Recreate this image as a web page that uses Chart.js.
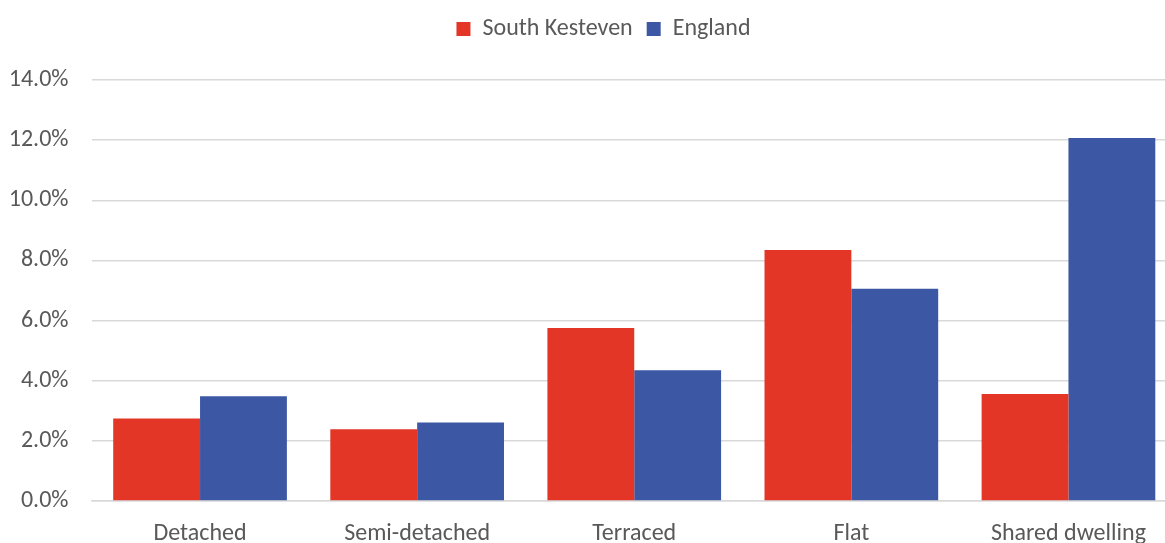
<!DOCTYPE html>
<html>
<head>
<meta charset="utf-8">
<script src="https://cdn.jsdelivr.net/npm/chart.js@4/dist/chart.umd.min.js"></script>
<style>
html,body{margin:0;padding:0;background:#fff;overflow:hidden;}
#wrap{width:1177px;height:543px;position:relative;}
</style>
</head>
<body>
<div id="wrap"><canvas id="c"></canvas></div>
<script>
const categories = ["Detached", "Semi-detached", "Terraced", "Flat", "Shared dwelling"];
const southKesteven = [2.74, 2.39, 5.75, 8.35, 3.56];
const england = [3.48, 2.61, 4.35, 7.06, 12.07];
const yTicks = [0, 2, 4, 6, 8, 10, 12, 14];

const FONT = "Carlito, Lato, 'Liberation Sans', sans-serif";
const TXT = "#595959";

const legendSpace = {
  id: 'legendSpace',
  beforeInit(chart) {
    const lg = chart.legend;
    if (lg) {
      const origFit = lg.fit;
      lg.fit = function () { origFit.call(this); this.height += 29; };
      const origDraw = lg.draw;
      lg.draw = function () {
        const ctx = this.ctx;
        ctx.save();
        ctx.translate(15, 0);
        origDraw.call(this);
        ctx.restore();
      };
    }
  }
};

new Chart(document.getElementById('c'), {
  type: 'bar',
  data: {
    labels: categories,
    datasets: [
      { label: 'South Kesteven', data: southKesteven, backgroundColor: '#E33626', borderWidth: 0 },
      { label: 'England', data: england, backgroundColor: '#3C57A3', borderWidth: 0 }
    ]
  },
  plugins: [legendSpace],
  options: {
    responsive: true,
    maintainAspectRatio: false,
    animation: false,
    layout: { padding: { top: 3, left: 0, right: 0, bottom: 0 } },
    datasets: { bar: { categoryPercentage: 0.80, barPercentage: 1.0 } },
    plugins: {
      legend: {
        position: 'top',
        labels: {
          boxWidth: 14, boxHeight: 14, padding: 14,
          color: TXT, font: { family: FONT, size: 24 }
        }
      },
      tooltip: { enabled: false }
    },
    scales: {
      x: {
        grid: { display: false, drawTicks: false },
        border: { display: true, color: '#d9d9d9', width: 1.5 },
        ticks: { color: TXT, font: { family: FONT, size: 24 }, padding: 19, maxRotation: 0 },
        afterFit: s => { s.height = 42; }
      },
      y: {
        min: 0, max: 14,
        afterBuildTicks: s => { s.ticks = yTicks.map(v => ({ value: v })); },
        grid: { color: '#d9d9d9', lineWidth: 1.5, drawTicks: false },
        border: { display: false },
        ticks: {
          color: TXT, font: { family: FONT, size: 24 }, padding: 23,
          callback: v => v.toFixed(1) + '%'
        },
        afterFit: s => { s.width = 91.5; }
      }
    }
  }
});
</script>
</body>
</html>
